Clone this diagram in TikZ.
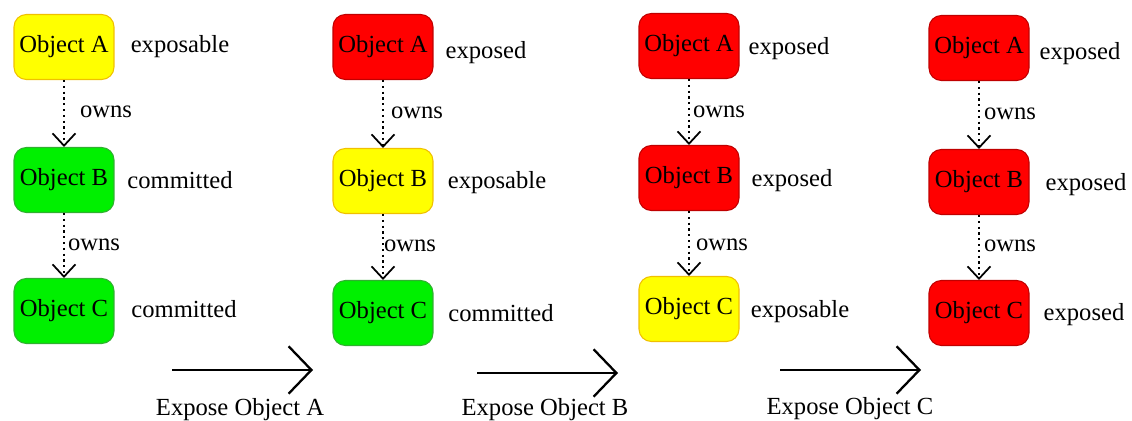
\documentclass[tikz,border=0pt]{standalone}
\usepackage{fontspec}
\setmainfont{Liberation Serif}
\usetikzlibrary{arrows.meta}

\definecolor{expyellow}{HTML}{FFFF00}
\definecolor{expyellowline}{HTML}{F0C000}
\definecolor{comgreen}{HTML}{00F000}
\definecolor{comgreenline}{HTML}{30B030}
\definecolor{expred}{HTML}{FF0000}
\definecolor{expredline}{HTML}{C00000}

\tikzset{
  obj/.style={draw, line width=0.6pt, rounded corners=7pt, minimum width=2cm,
    minimum height=1.3cm, inner sep=1pt, font=\fontsize{14}{16}\selectfont},
  exposable/.style={obj, fill=expyellow, draw=expyellowline},
  committed/.style={obj, fill=comgreen, draw=comgreenline},
  exposed/.style={obj, fill=expred, draw=expredline},
  tag/.style={font=\fontsize{14}{16}\selectfont, text height=1.45ex, text depth=.3ex},
  owns/.style={dotted, line width=1.3pt, -{Straight Barb[length=7pt,width=13pt,line width=1pt]}},
  stepto/.style={line width=1.4pt, -{Straight Barb[length=13pt,width=27pt,line width=1.3pt]}}
}

\begin{document}
\begin{tikzpicture}[x=0.02cm,y=-0.02cm]
  \useasboundingbox (0,0) rectangle (1132,421);

  % before anything is exposed
  \node[exposable] (a1) at (64,47)  {Object A};
  \node[committed] (b1) at (64,180) {Object B};
  \node[committed] (c1) at (64,311) {Object C};
  \node[tag] (sa1) at (180,48)  {exposable};
  \node[tag] (sb1) at (180,184) {committed};
  \node[tag] (sc1) at (184,313) {committed};
  \node[tag] (o1) at (106,113) {owns};
  \node[tag] (o2) at (94,246)  {owns};
  \draw[owns] (a1) -- (b1);
  \draw[owns] (b1) -- (c1);

  % after Object A
  \node[exposed]   (a2) at (383,47)  {Object A};
  \node[exposable] (b2) at (383,181) {Object B};
  \node[committed] (c2) at (383,313) {Object C};
  \node[tag] (sa2) at (486,54)  {exposed};
  \node[tag] (sb2) at (497,184) {exposable};
  \node[tag] (sc2) at (501,317) {committed};
  \node[tag] (o3) at (417,114) {owns};
  \node[tag] (o4) at (410,247) {owns};
  \draw[owns] (a2) -- (b2);
  \draw[owns] (b2) -- (c2);

  % after Object B
  \node[exposed]   (a3) at (689,46)  {Object A};
  \node[exposed]   (b3) at (689,178) {Object B};
  \node[exposable] (c3) at (689,309) {Object C};
  \node[tag] (sa3) at (789,50)  {exposed};
  \node[tag] (sb3) at (792,182) {exposed};
  \node[tag] (sc3) at (800,313) {exposable};
  \node[tag] (o5) at (719,113) {owns};
  \node[tag] (o6) at (722,246) {owns};
  \draw[owns] (a3) -- (b3);
  \draw[owns] (b3) -- (c3);

  % after Object C
  \node[exposed] (a4) at (979,48)  {Object A};
  \node[exposed] (b4) at (979,182) {Object B};
  \node[exposed] (c4) at (979,313) {Object C};
  \node[tag] (sa4) at (1080,55)  {exposed};
  \node[tag] (sb4) at (1086,186) {exposed};
  \node[tag] (sc4) at (1084,316) {exposed};
  \node[tag] (o7) at (1010,115) {owns};
  \node[tag] (o8) at (1010,247) {owns};
  \draw[owns] (a4) -- (b4);
  \draw[owns] (b4) -- (c4);

  % steps
  \coordinate (s1) at (172,370);
  \coordinate (e1) at (313,370);
  \coordinate (s2) at (477,373);
  \coordinate (e2) at (618,373);
  \coordinate (s3) at (780,370);
  \coordinate (e3) at (921,370);
  \draw[stepto] (s1) -- (e1);
  \draw[stepto] (s2) -- (e2);
  \draw[stepto] (s3) -- (e3);
  \node[tag] (x1) at (240,411) {Expose Object A};
  \node[tag] (x2) at (545,411) {Expose Object B};
  \node[tag] (x3) at (850,410) {Expose Object C};
\end{tikzpicture}
\end{document}
